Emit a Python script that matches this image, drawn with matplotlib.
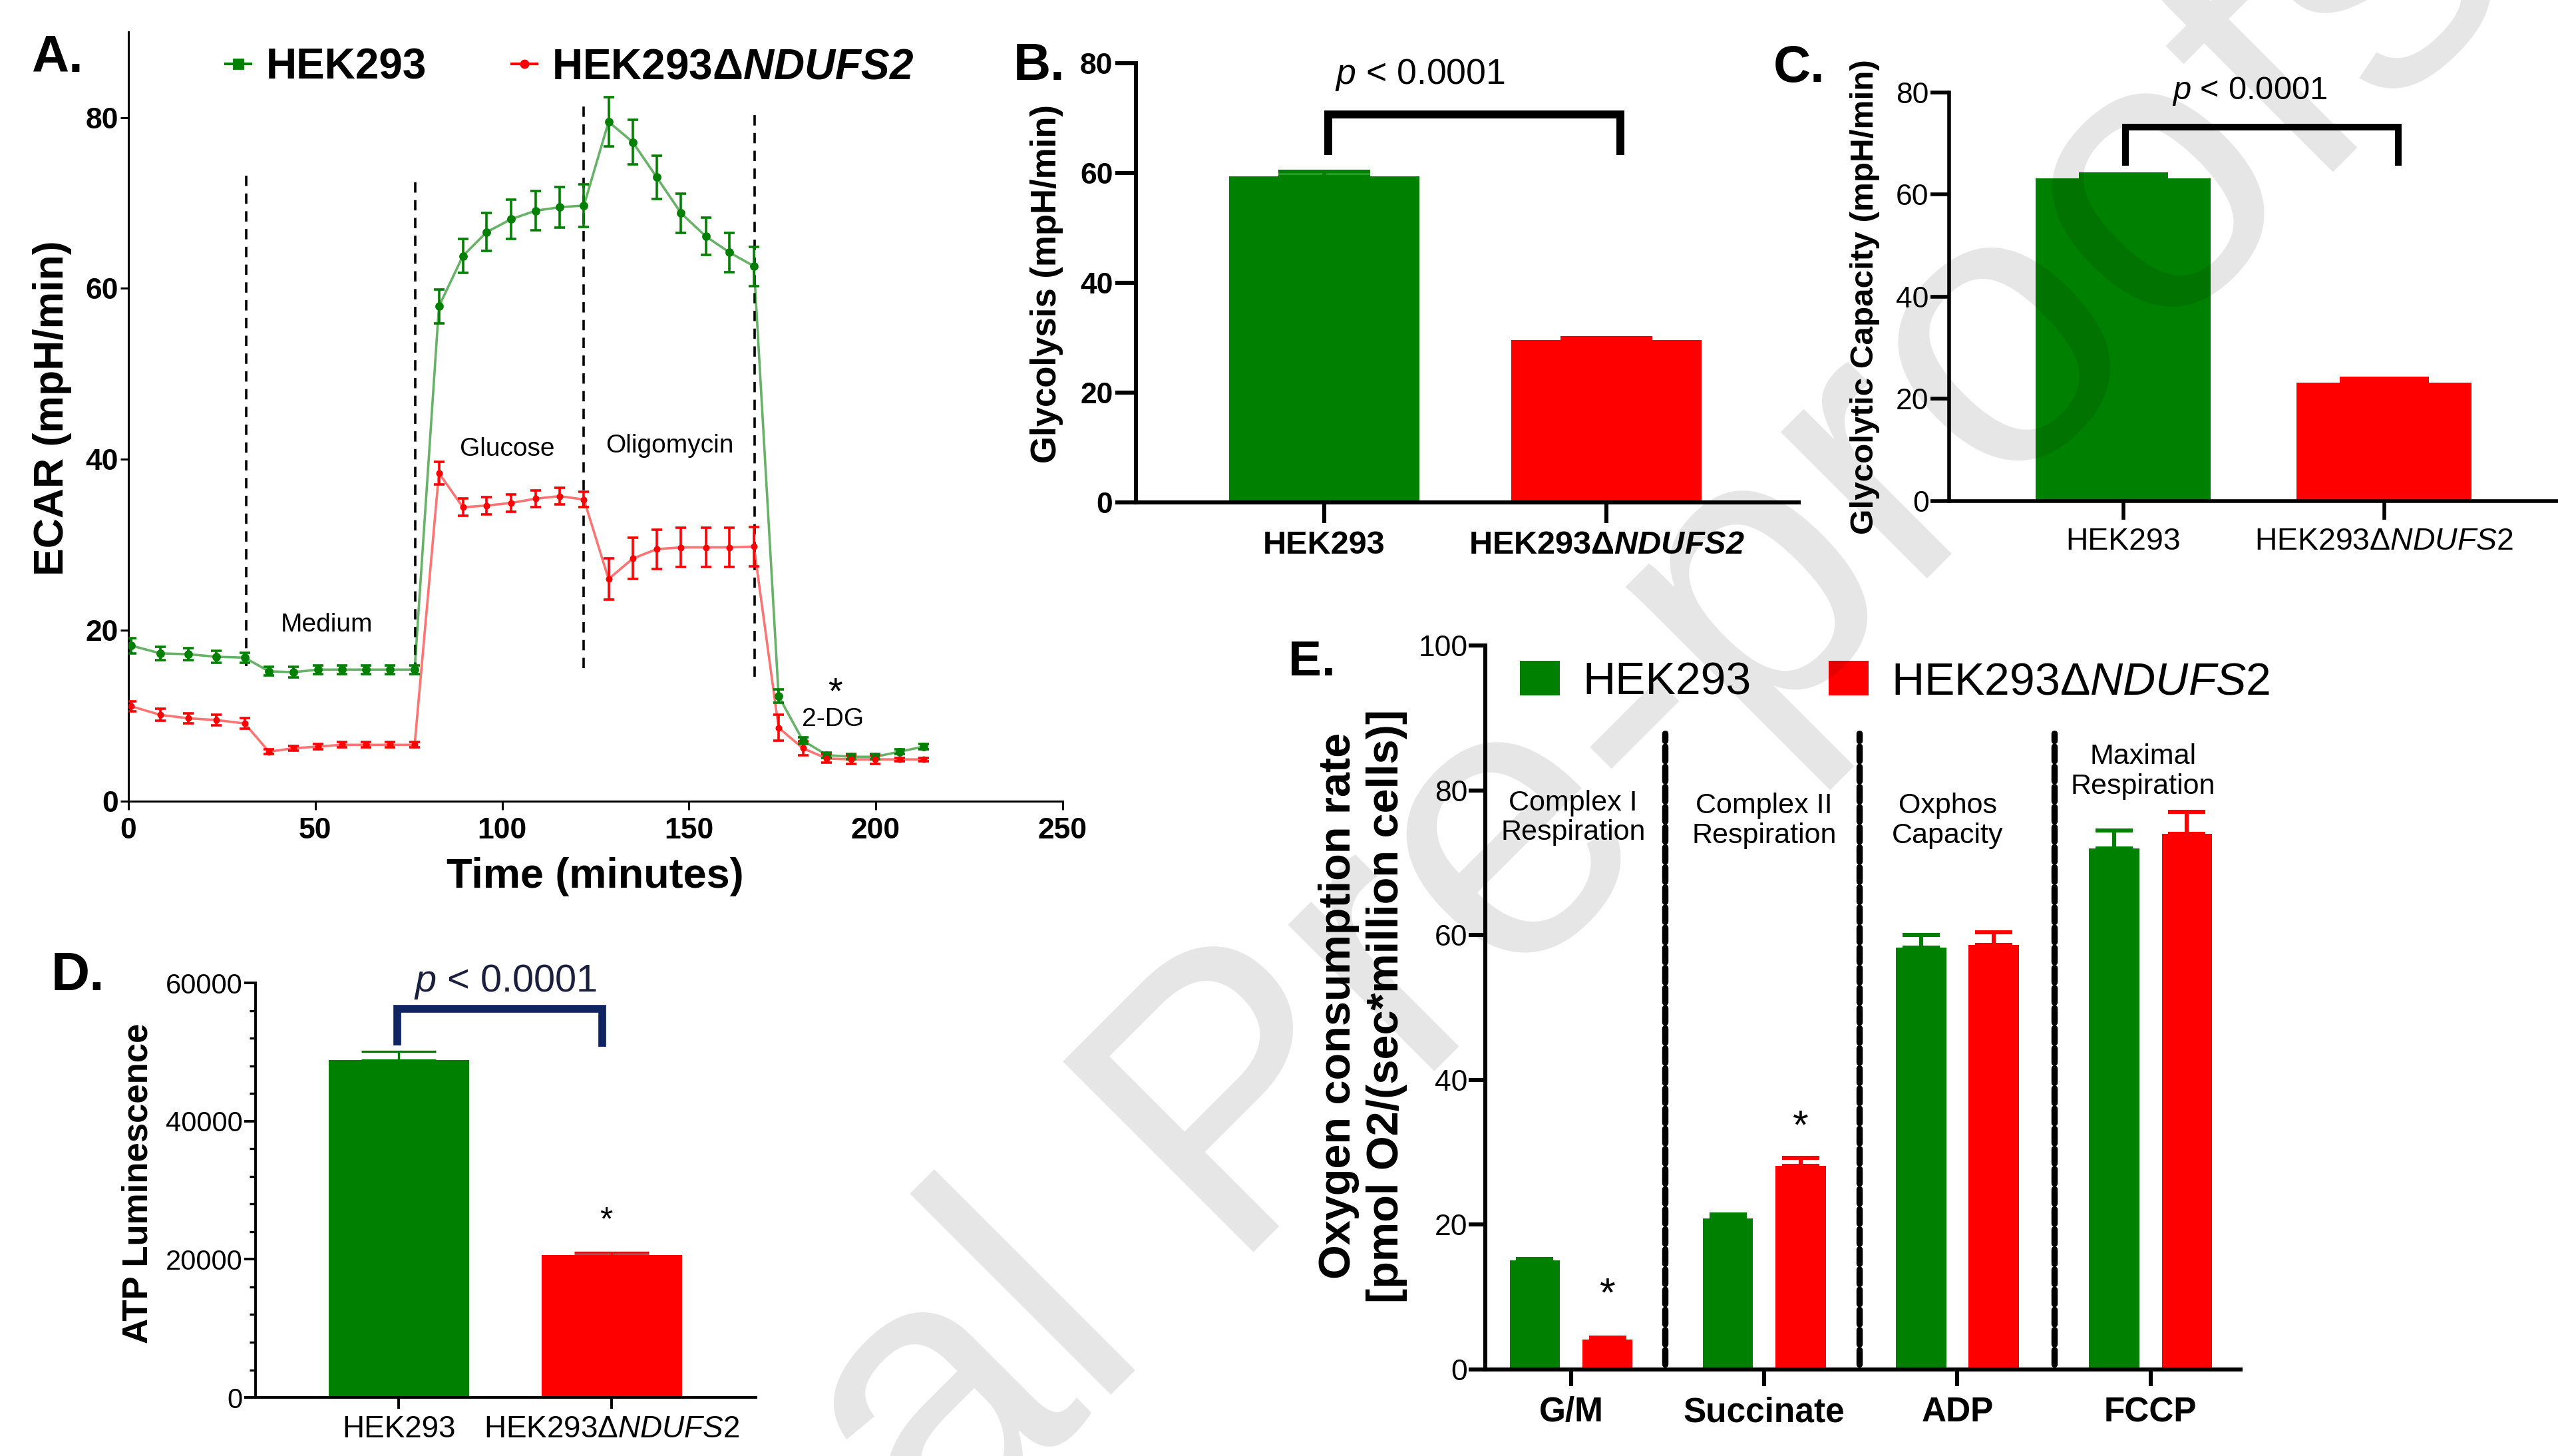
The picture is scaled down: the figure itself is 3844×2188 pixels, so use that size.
import numpy as np
import matplotlib
matplotlib.use('Agg')
import matplotlib.pyplot as plt
from matplotlib.lines import Line2D
from matplotlib.ticker import MultipleLocator

plt.rcParams['font.family'] = ['Liberation Sans', 'DejaVu Sans']
plt.rcParams['mathtext.fontset'] = 'custom'
plt.rcParams['mathtext.rm'] = 'Liberation Sans'
plt.rcParams['mathtext.it'] = 'Liberation Sans:italic'
plt.rcParams['mathtext.bf'] = 'Liberation Sans:bold'
plt.rcParams['mathtext.bfit'] = 'Liberation Sans:italic:bold'

GREEN = '#008000'
RED = '#ff0000'
NAVY = '#0f2460'

# --- A: ECAR time course ---
time_min = [0.8, 8.6, 16.1, 23.6, 31.1, 37.6, 44.2, 50.7, 57.1, 63.5, 70.0, 76.6,
            83.1, 89.5, 95.9, 102.4, 109.0, 115.4, 121.9, 128.5, 135.0, 141.4, 147.9,
            154.5, 160.9, 167.4, 174.0, 180.5, 186.9, 193.4, 199.8, 206.4, 212.9]
ecar_wt = [18.2, 17.3, 17.2, 16.9, 16.8, 15.2, 15.1, 15.4, 15.4, 15.4, 15.4, 15.4,
           57.9, 63.8, 66.6, 68.1, 69.1, 69.5, 69.7, 79.5, 77.1, 73.0, 68.8,
           66.1, 64.2, 62.6, 12.3, 7.1, 5.4, 5.2, 5.2, 5.8, 6.4]
ecar_wt_err = [0.9, 0.8, 0.7, 0.7, 0.6, 0.5, 0.6, 0.5, 0.5, 0.5, 0.5, 0.5,
               2.0, 2.0, 2.2, 2.3, 2.3, 2.4, 2.5, 2.9, 2.6, 2.5, 2.3,
               2.2, 2.3, 2.3, 0.8, 0.4, 0.3, 0.3, 0.3, 0.3, 0.3]
ecar_ko = [11.1, 10.1, 9.7, 9.5, 9.1, 5.8, 6.2, 6.4, 6.6, 6.6, 6.6, 6.6,
           38.4, 34.4, 34.6, 34.9, 35.4, 35.7, 35.3, 26.0, 28.4, 29.5, 29.7,
           29.7, 29.7, 29.8, 8.6, 6.2, 5.0, 4.9, 4.9, 4.9, 4.9]
ecar_ko_err = [0.6, 0.7, 0.6, 0.6, 0.6, 0.3, 0.3, 0.3, 0.3, 0.3, 0.3, 0.3,
               1.3, 1.0, 1.0, 1.0, 1.0, 1.0, 0.9, 2.4, 2.4, 2.3, 2.3,
               2.3, 2.3, 2.3, 1.5, 0.8, 0.5, 0.5, 0.5, 0.2, 0.2]
inject_time = [31.6, 76.8, 121.9, 167.6]
inject_lo = [15.8, 15.0, 15.6, 14.6]
inject_hi = [73.8, 73.0, 81.7, 80.5]

# --- B, C, D: two cell lines ---
cell_bold = ['HEK293', 'HEK293Δ$\\mathbfit{NDUFS2}$']
cell_reg = ['HEK293', 'HEK293Δ$\\mathit{NDUFS2}$']
glycolysis = [59.4, 29.6]
glycolysis_err = [0.8, 0.4]
glyco_capacity = [63.2, 23.2]
glyco_capacity_err = [0.8, 0.8]
atp_lum = [48800, 20650]
atp_lum_err = [1300, 400]

# --- E: oxygen consumption ---
substrates = ['G/M', 'Succinate', 'ADP', 'FCCP']
ocr_wt = [15.1, 20.9, 58.3, 72.0]
ocr_wt_err = [0.2, 0.5, 1.7, 2.4]
ocr_ko = [4.15, 28.1, 58.6, 74.0]
ocr_ko_err = [0.3, 1.1, 1.8, 3.0]
states = ['Complex I\nRespiration', 'Complex II\nRespiration', 'Oxphos\nCapacity', 'Maximal\nRespiration']

fig = plt.figure(figsize=(19.22, 10.94), dpi=200)


def clean(ax, lw):
    ax.spines[['top', 'right']].set_visible(False)
    ax.spines[['left', 'bottom']].set_linewidth(lw)


# ---------------- A ----------------
axA = fig.add_axes([0.0502, 0.4497, 0.3652, 0.5283])
axA.plot(time_min, ecar_wt, color=GREEN, alpha=0.6, lw=1.3, zorder=2)
axA.plot(time_min, ecar_ko, color=RED, alpha=0.55, lw=1.3, zorder=2)
axA.errorbar(time_min, ecar_wt, yerr=ecar_wt_err, fmt='o', ms=3.6, color=GREEN,
             elinewidth=1.3, capsize=2.8, capthick=1.3, zorder=3)
axA.errorbar(time_min, ecar_ko, yerr=ecar_ko_err, fmt='o', ms=2.6, color=RED,
             elinewidth=1.3, capsize=2.8, capthick=1.3, zorder=3)
for t, lo, hi in zip(inject_time, inject_lo, inject_hi):
    axA.plot([t, t], [lo, hi], color='black', lw=1.3, dashes=(4.3, 3.1), zorder=1)
axA.text(53.0, 20.65, 'Medium', fontsize=14, ha='center', va='center')
axA.text(101.3, 41.2, 'Glucose', fontsize=14, ha='center', va='center')
axA.text(144.9, 41.6, 'Oligomycin', fontsize=14, ha='center', va='center')
axA.text(189.1, 12.6, '*', fontsize=20, ha='center', va='center')
axA.text(188.6, 9.6, '2-DG', fontsize=14, ha='center', va='center')
axA.set_xlim(0, 250)
axA.set_ylim(0, 90)
axA.set_xticks([0, 50, 100, 150, 200, 250])
axA.set_yticks([0, 20, 40, 60, 80])
axA.tick_params(length=4.5, width=1.1, labelsize=16)
axA.tick_params(axis='x', pad=4)
axA.tick_params(axis='y', pad=1)
for lab in axA.get_xticklabels() + axA.get_yticklabels():
    lab.set_fontweight('bold')
clean(axA, 1.1)
axA.set_ylabel('ECAR (mpH/min)', fontsize=22.5, fontweight='bold', va='center')
axA.yaxis.set_label_coords(-0.0812, 0.511)
axA.set_xlabel('Time (minutes)', fontsize=22.7, fontweight='bold', va='center')
axA.xaxis.set_label_coords(0.4993, -0.0978)
legA = [Line2D([], [], color=GREEN, marker='s', ms=5, lw=1.5),
        Line2D([], [], color=RED, marker='o', ms=4, lw=1.5)]
axA.legend(legA, ['HEK293', 'HEK293Δ$\\mathbfit{NDUFS2}$'], ncol=2, frameon=False,
           prop={'weight': 'bold', 'size': 23}, loc='center left',
           bbox_to_anchor=(0.0882, 0.9538), bbox_transform=fig.transFigure,
           borderpad=0, borderaxespad=0, handlelength=0.6, handletextpad=0.35,
           columnspacing=2.0)


def two_bars(ax, vals, errs, width, err_lw, capsize):
    x = np.arange(len(vals))
    ax.bar(x, vals, width=width, color=[GREEN, RED], zorder=2)
    for xi, v, e, c in zip(x, vals, errs, [GREEN, RED]):
        ax.errorbar(xi, v, yerr=[[0], [e]], fmt='none', ecolor=c, elinewidth=err_lw,
                    capsize=capsize, capthick=err_lw, zorder=2)
    return x


def bracket(ax, x0, x1, y_top, y_bot0, y_bot1, lw, color):
    ax.plot([x0, x0, x1, x1], [y_bot0, y_top, y_top, y_bot1], color=color, lw=lw,
            solid_joinstyle='miter', solid_capstyle='butt', zorder=4)


# ---------------- B ----------------
axB = fig.add_axes([0.4441, 0.6549, 0.2591, 0.3017])
xb = two_bars(axB, glycolysis, glycolysis_err, 0.675, 2.2, 25)
bracket(axB, xb[0] + 0.014, xb[1] + 0.049, 70.7, 63.3, 63.3, 4.3, 'black')
axB.text(0.34, 77.9, '$\\mathit{p}$ < 0.0001', fontsize=19.3, ha='center', va='center')
axB.set_xlim(-0.667, 1.682)
axB.set_ylim(0, 80)
axB.set_yticks([0, 20, 40, 60, 80])
axB.set_xticks(xb, cell_bold)
axB.tick_params(length=11, width=2.2, labelsize=16)
axB.tick_params(axis='x', labelsize=17.5, pad=4)
axB.tick_params(axis='y', pad=1.5)
for lab in axB.get_xticklabels() + axB.get_yticklabels():
    lab.set_fontweight('bold')
clean(axB, 2.2)
axB.set_ylabel('Glycolysis (mpH/min)', fontsize=19, fontweight='bold', va='center')
axB.yaxis.set_label_coords(-0.1345, 0.4985)

# ---------------- C ----------------
axC = fig.add_axes([0.7620, 0.6559, 0.2380, 0.2806])
xc = two_bars(axC, glyco_capacity, glyco_capacity_err, 0.671, 2.2, 24)
bracket(axC, xc[0] + 0.008, xc[1] + 0.054, 73.2, 65.6, 65.6, 3.6, 'black')
axC.text(0.485, 80.2, '$\\mathit{p}$ < 0.0001', fontsize=17.6, ha='center', va='center')
axC.set_xlim(-0.668, 1.666)
axC.set_ylim(0, 80)
axC.set_yticks([0, 20, 40, 60, 80])
axC.set_xticks(xc, cell_reg)
axC.tick_params(length=10, width=2.0, labelsize=16)
axC.tick_params(axis='x', labelsize=16.7, pad=4)
axC.tick_params(axis='y', pad=1)
clean(axC, 2.0)
axC.set_ylabel('Glycolytic Capacity (mpH/min)', fontsize=17.8, fontweight='bold', va='center')
axC.yaxis.set_label_coords(-0.1388, 0.4992)

# ---------------- D ----------------
axD = fig.add_axes([0.0999, 0.0402, 0.1956, 0.2847])
xd = two_bars(axD, atp_lum, atp_lum_err, 0.66, 1.2, 20)
bracket(axD, xd[0] - 0.008, xd[1] - 0.045, 56300, 50970, 50720, 4.2, NAVY)
axD.text(0.50, 60150, '$\\mathit{p}$ < 0.0001', fontsize=20.8, ha='center', va='center',
         color='#1a1f3d')
axD.text(xd[1] - 0.025, 25500, '*', fontsize=18, ha='center', va='center')
axD.set_xlim(-0.673, 1.677)
axD.set_ylim(0, 60000)
axD.set_yticks([0, 20000, 40000, 60000])
axD.yaxis.set_minor_locator(MultipleLocator(4000))
axD.set_xticks(xd, cell_reg)
axD.tick_params(length=6, width=1.4, labelsize=15)
axD.tick_params(which='minor', length=3.3, width=1.2)
axD.tick_params(axis='x', labelsize=16.5, pad=3.5)
axD.tick_params(axis='y', pad=1)
clean(axD, 1.4)
axD.set_ylabel('ATP Luminescence', fontsize=19, fontweight='bold', va='center')
axD.yaxis.set_label_coords(-0.2354, 0.5169)

# ---------------- E ----------------
axE = fig.add_axes([0.5806, 0.0594, 0.2953, 0.4973])
xe = np.arange(len(substrates))
axE.bar(xe - 0.188, ocr_wt, 0.26, color=GREEN, label='HEK293', zorder=2)
axE.bar(xe + 0.188, ocr_ko, 0.26, color=RED, label='HEK293Δ$\\mathit{NDUFS2}$', zorder=2)
axE.errorbar(xe - 0.188, ocr_wt, yerr=[np.zeros(4), ocr_wt_err], fmt='none', ecolor=GREEN,
             elinewidth=2.2, capsize=10, capthick=2.2, zorder=2)
axE.errorbar(xe + 0.188, ocr_ko, yerr=[np.zeros(4), ocr_ko_err], fmt='none', ecolor=RED,
             elinewidth=2.2, capsize=10, capthick=2.2, zorder=2)
for sep in [0.486, 1.493, 2.503]:
    axE.plot([sep, sep], [0.75, 87.9], color='black', lw=3.4, dashes=(2.3, 0.9),
             dash_capstyle='round', zorder=1)
for xs, ys, s in zip([0.01, 1.0, 1.95, 2.96], [76.2, 75.8, 75.8, 82.6], states):
    axE.text(xs, ys, s, fontsize=15.5, ha='center', va='center', linespacing=1.15)
axE.text(xe[0] + 0.188, 10.2, '*', fontsize=22, ha='center', va='center')
axE.text(xe[1] + 0.188, 33.4, '*', fontsize=22, ha='center', va='center')
axE.set_xlim(-0.445, 3.466)
axE.set_ylim(0, 100)
axE.set_yticks([0, 20, 40, 60, 80, 100])
axE.set_xticks(xe, substrates)
axE.tick_params(length=9, width=2.2, labelsize=16)
axE.tick_params(axis='x', labelsize=18.5, pad=5.5)
axE.tick_params(axis='y', pad=0.5)
for lab in axE.get_xticklabels():
    lab.set_fontweight('bold')
clean(axE, 2.2)
axE.set_ylabel('Oxygen consumption rate\n[pmol O2/(sec*million cells)]', fontsize=24,
               fontweight='bold', va='center', linespacing=1.2)
axE.yaxis.set_label_coords(-0.162, 0.502)
axE.legend(ncol=2, frameon=False, fontsize=24.5, loc='center left',
           bbox_to_anchor=(0.5942, 0.5315), bbox_transform=fig.transFigure,
           borderpad=0, borderaxespad=0, handlelength=0.88, handleheight=0.8,
           handletextpad=0.5, columnspacing=1.72)

# panel letters
for x, y, s, fs in [(0.0122, 0.9506, 'A.', 28), (0.3962, 0.9452, 'B.', 28),
                    (0.6933, 0.9438, 'C.', 28), (0.0200, 0.3199, 'D.', 29),
                    (0.5036, 0.5361, 'E.', 27)]:
    fig.text(x, y, s, fontsize=fs, fontweight='bold', ha='left', va='baseline')

# watermark
fig.text(0.5133, 0.2797, 'Journal Pre-proofs', fontsize=212, rotation=45,
         rotation_mode='anchor', ha='center', va='center', color='black',
         alpha=0.1, zorder=100)

fig.savefig('out.png', dpi=200)
